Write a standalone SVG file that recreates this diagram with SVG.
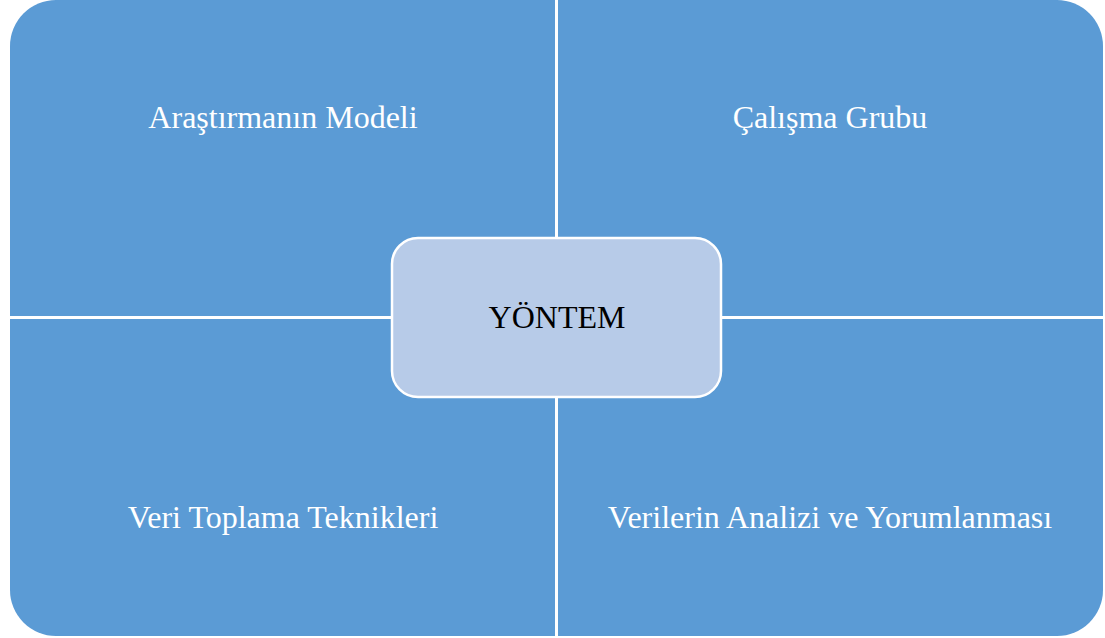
<svg xmlns="http://www.w3.org/2000/svg" width="1105" height="638" viewBox="0 0 1105 638">
<style>
.q{fill:#5B9BD5;}
.qt{font-family:"Liberation Serif","Times New Roman",serif;font-size:32px;fill:#FFFFFF;text-anchor:middle;}
.c{fill:#B7CBE8;stroke:#FFFFFF;stroke-width:2.5;}
.ct{font-family:"Liberation Serif","Times New Roman",serif;font-size:32px;fill:#000000;text-anchor:middle;}
</style>
<rect width="1105" height="638" fill="#FFFFFF"/>
<g id="node-tl">
<path class="q" d="M10,316 L10,46 A46,46 0 0 1 56,0 L555,0 L555,316 Z"/>
<text class="qt" x="283" y="128">Araştırmanın Modeli</text>
</g>
<g id="node-tr">
<path class="q" d="M558,0 L1057,0 A46,46 0 0 1 1103,46 L1103,316 L558,316 Z"/>
<text class="qt" x="830" y="128">Çalışma Grubu</text>
</g>
<g id="node-bl">
<path class="q" d="M10,319 L555,319 L555,636 L56,636 A46,46 0 0 1 10,590 Z"/>
<text class="qt" x="283" y="528">Veri Toplama Teknikleri</text>
</g>
<g id="node-br">
<path class="q" d="M558,319 L1103,319 L1103,590 A46,46 0 0 1 1057,636 L558,636 Z"/>
<text class="qt" x="830" y="528">Verilerin Analizi ve Yorumlanması</text>
</g>
<g id="connectors"></g>
<g id="node-center">
<rect class="c" x="392" y="238" width="329" height="159" rx="26" ry="26"/>
<text class="ct" x="557" y="328">YÖNTEM</text>
</g>
</svg>
